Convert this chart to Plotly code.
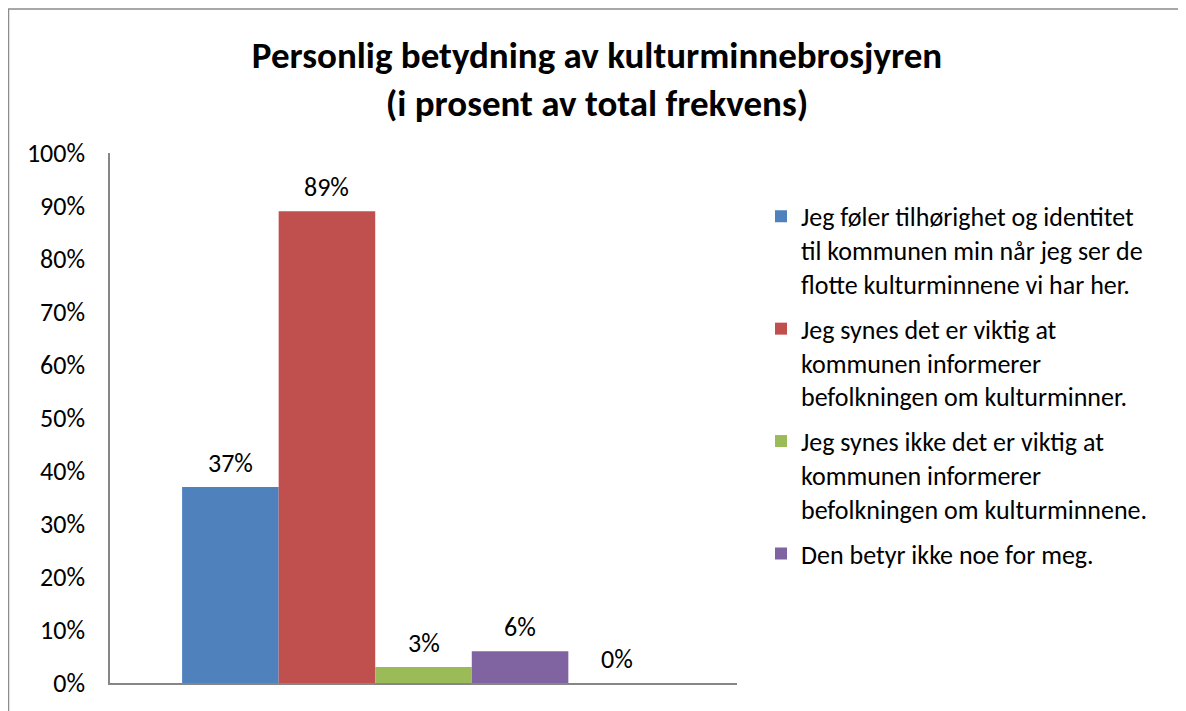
import plotly.graph_objects as go

# ---- data ----
categories = [""]
series_names = [
    "Jeg føler tilhørighet og identitet<br>til kommunen min når jeg ser de<br>flotte kulturminnene vi har her.",
    "Jeg synes det er viktig at<br>kommunen informerer<br>befolkningen om kulturminner.",
    "Jeg synes ikke det er viktig at<br>kommunen informerer<br>befolkningen om kulturminnene.",
    "Den betyr ikke noe for meg.",
    "",
]
series_values = [0.37, 0.89, 0.03, 0.06, 0.00]
series_colors = ["#4F81BD", "#C0504D", "#9BBB59", "#8064A2", "#4BACC6"]
show_in_legend = [True, True, True, True, False]
y_ticks = [0, 0.1, 0.2, 0.3, 0.4, 0.5, 0.6, 0.7, 0.8, 0.9, 1.0]

FONT = "Carlito, Lato, sans-serif"
BARGAP = 0.23

fig = go.Figure()
for i, (name, val, col, sl) in enumerate(zip(series_names, series_values, series_colors, show_in_legend)):
    fig.add_trace(go.Bar(
        x=categories, y=[val], name=name, marker=dict(color=col, line=dict(width=0)),
        showlegend=sl, legendgroup=f"g{i}",
        hoverinfo="skip",
    ))

# data labels above the bars, positioned from the grouped-bar layout
n = len(series_values)
bar_w = (1 - BARGAP) / n
for i, val in enumerate(series_values):
    xc = -(1 - BARGAP) / 2 + bar_w * (i + 0.5)
    fig.add_annotation(
        x=xc, y=val, xref="x", yref="y", text=f"{round(val * 100)}%",
        showarrow=False, yanchor="bottom", yshift=6,
        font=dict(family=FONT, size=26, color="#000000"),
    )

# page body adds an 8px offset; figure coordinates are screen - 8
W, H = 1178, 703
L, T = 102, 145
R = W - 729
B = H - 677
pw, ph = W - L - R, H - T - B

# outer chart border
fig.add_shape(
    type="rect", xref="paper", yref="paper",
    x0=(0.5 - L) / pw, x1=(1171 - L) / pw,
    y0=(H - B - 740) / ph, y1=(H - B - 0.5) / ph,
    line=dict(color="#8C8C8C", width=1.5), fillcolor="rgba(0,0,0,0)", layer="below",
)

fig.update_layout(
    width=W, height=H,
    margin=dict(l=L, r=R, t=T, b=B),
    paper_bgcolor="white", plot_bgcolor="white",
    barmode="group", bargap=BARGAP, bargroupgap=0,
    font=dict(family=FONT, size=25, color="#000000"),
    title=dict(
        text="<b>Personlig betydning av kulturminnebrosjyren<br>(i prosent av total frekvens)</b>",
        x=0.5, xanchor="center", y=1 - 60 / H, yanchor="middle", yref="container",
        font=dict(family=FONT, size=37, color="#000000"),
    ),
    legend=dict(
        x=(753 - L) / pw, xanchor="left", y=(H - B - 185) / ph, yanchor="top",
        font=dict(family=FONT, size=26, color="#000000"),
        tracegroupgap=8, itemsizing="constant", bgcolor="rgba(0,0,0,0)",
        valign="top",
    ),
    xaxis=dict(
        showticklabels=False, ticks="", showgrid=False, zeroline=False,
        showline=True, linecolor="#868686", linewidth=1.5, range=[-0.5, 0.5],
        fixedrange=True,
    ),
    yaxis=dict(
        range=[0, 1], tickvals=y_ticks, tickformat=".0%", showgrid=False, zeroline=False,
        showline=True, linecolor="#868686", linewidth=1.5, ticks="",
        ticklabelstandoff=18, tickfont=dict(family=FONT, size=26, color="#000000"),
    ),
)

fig.write_html("out.html")
